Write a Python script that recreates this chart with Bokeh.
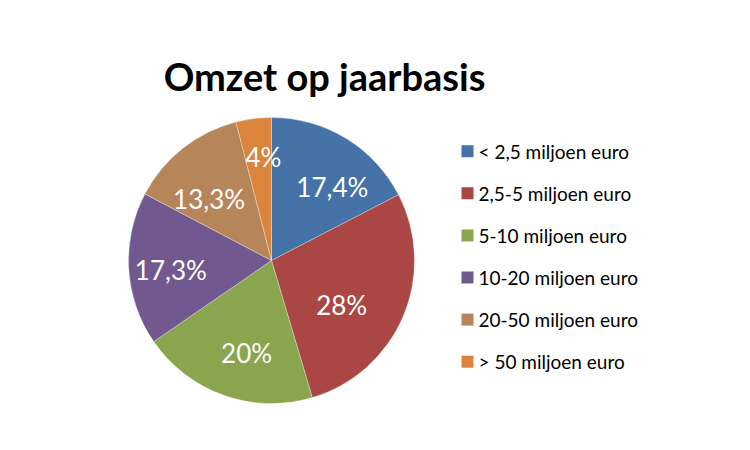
import math
from bokeh.plotting import figure
from bokeh.models import ColumnDataSource, Range1d
from bokeh.core.properties import value
from bokeh.embed import file_html
from bokeh.resources import INLINE

# ---- data ----
title_text = "Omzet op jaarbasis"
categories = ["< 2,5 miljoen euro", "2,5-5 miljoen euro", "5-10 miljoen euro",
              "10-20 miljoen euro", "20-50 miljoen euro", "> 50 miljoen euro"]
shares = [17.4, 28, 20, 17.3, 13.3, 4]
labels = ["17,4%", "28%", "20%", "17,3%", "13,3%", "4%"]
colors = ["#4572A7", "#AA4643", "#89A54E", "#71588F", "#B7855A", "#DB843D"]

# ---- layout ----
W, H = 750, 450
cx, cy, r = 271, H - 260, 143
label_frac = 0.67
# small per-label nudges (screen px, x right / y down) to mimic best-fit placement
nudge_x = [11, -18, 7, -5, -3, 4]
nudge_y = [8, 7, 2, 4, 14, -8]

total = sum(shares)
starts, ends, lx, ly = [], [], [], []
cum = 0.0
for i, s in enumerate(shares):
    a0 = math.pi / 2 - 2 * math.pi * (cum + s) / total
    a1 = math.pi / 2 - 2 * math.pi * cum / total
    starts.append(a0)
    ends.append(a1)
    mid = (a0 + a1) / 2
    lx.append(cx + label_frac * r * math.cos(mid) + nudge_x[i])
    ly.append(cy + label_frac * r * math.sin(mid) - nudge_y[i])
    cum += s

src = ColumnDataSource(dict(start=starts, end=ends, color=colors,
                            lx=lx, ly=ly, label=labels))

p = figure(width=W, height=H, x_range=Range1d(0, W), y_range=Range1d(0, H),
           output_backend="svg", toolbar_location=None, min_border=0)
p.xaxis.visible = False
p.yaxis.visible = False
p.xgrid.visible = False
p.ygrid.visible = False
p.outline_line_color = None
p.background_fill_color = "white"
p.border_fill_color = "white"

p.wedge(x=cx, y=cy, radius=r, start_angle="start", end_angle="end",
        fill_color="color", line_color="white", line_width=0.6, line_alpha=0.5,
        source=src)

p.text(x="lx", y="ly", text="label", source=src, text_color="white",
       text_font=value("Lato"), text_font_size="26px",
       text_align="center", text_baseline="middle")

# title
p.text(x=[324], y=[H - 75], text=[title_text], text_font=value("Lato"),
       text_font_style="bold", text_font_size="38px", text_color="black",
       text_align="center", text_baseline="middle")

# legend
leg_x, leg_y0, leg_dy = 467, H - 150.7, 42.1
ys = [leg_y0 - i * leg_dy for i in range(len(categories))]
lsrc = ColumnDataSource(dict(y=ys, color=colors, cat=categories,
                             x=[leg_x] * len(categories),
                             tx=[leg_x + 11] * len(categories)))
p.rect(x="x", y="y", width=12, height=12, width_units="screen",
       height_units="screen", fill_color="color", line_color=None, source=lsrc)
p.text(x="tx", y="y", text="cat", source=lsrc, text_color="black",
       text_font=value("Lato"), text_font_size="19px",
       text_align="left", text_baseline="middle")

open("out.html", "w").write(file_html(p, INLINE))
